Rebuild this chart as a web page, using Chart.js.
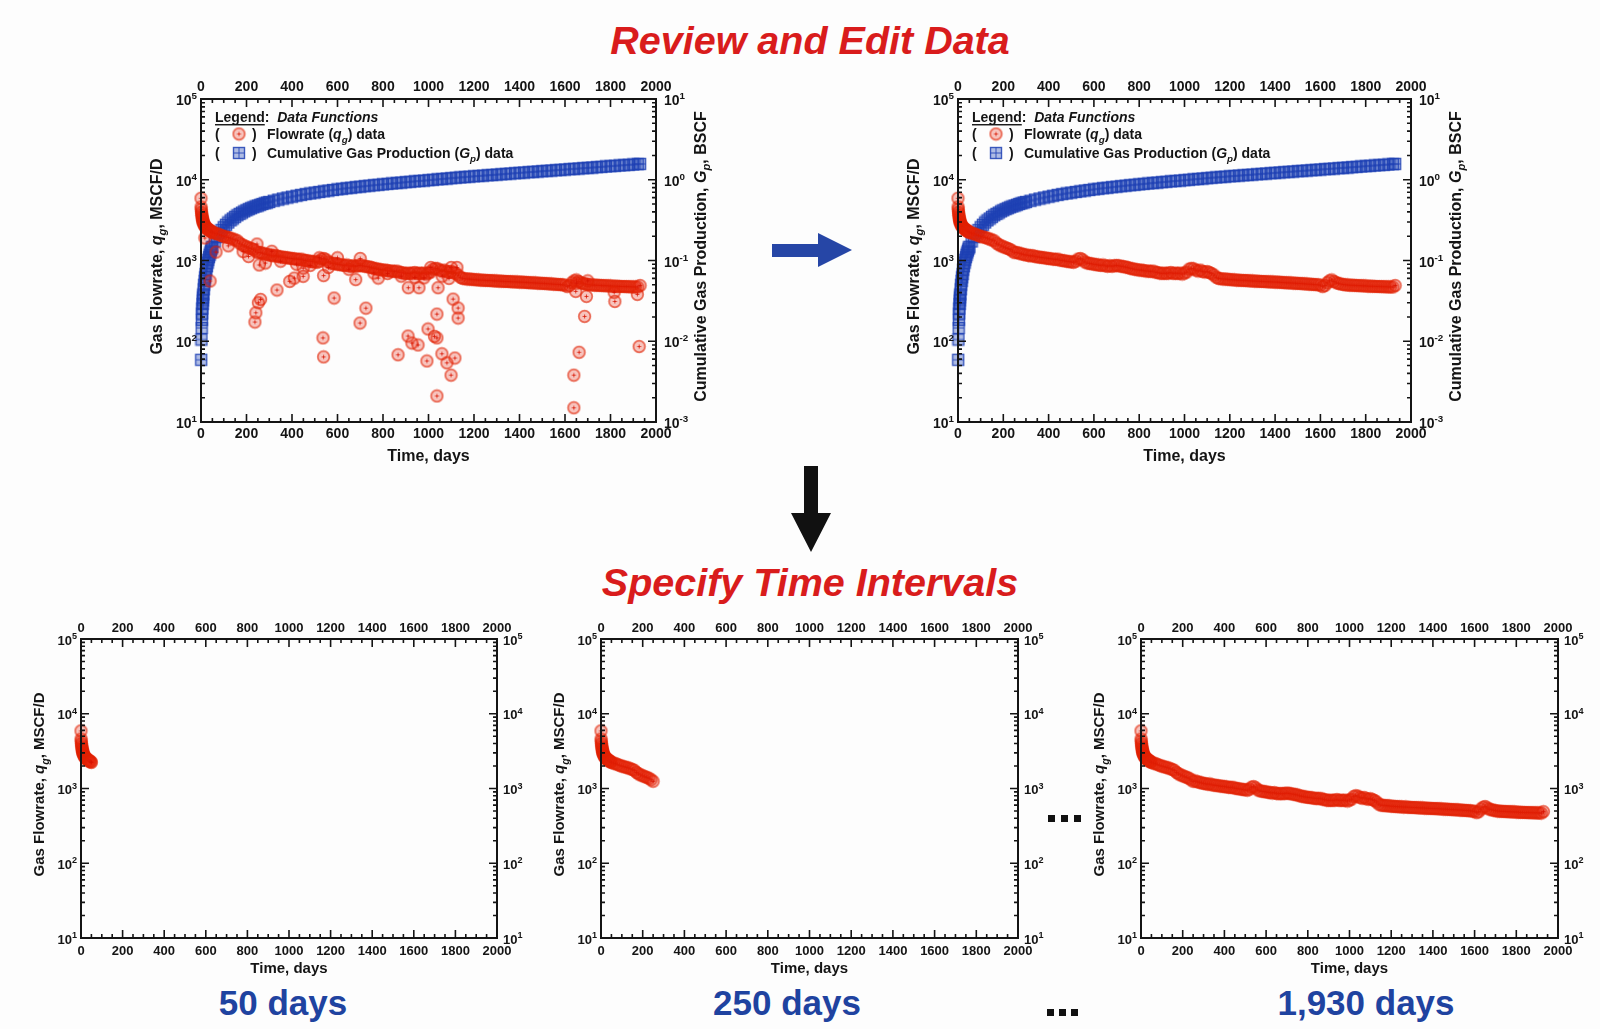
<!DOCTYPE html>
<html>
<head>
<meta charset="utf-8">
<title>Review and Edit Data</title>
<script src="https://cdn.jsdelivr.net/npm/chart.js@4.4.1/dist/chart.umd.min.js"></script>
<style>
  html, body { margin: 0; padding: 0; overflow: hidden; }
  body { width: 1600px; height: 1029px; position: relative; background: #fdfdfd; font-family: "Liberation Sans", Arial, sans-serif; }
  canvas { position: absolute; }
  #deco { position: absolute; left: 0; top: 0; }
</style>
</head>
<body>
<svg id="deco" width="1600" height="1029" xmlns="http://www.w3.org/2000/svg"></svg>
<script>
// tick labels
const X_TICKS = [0, 200, 400, 600, 800, 1000, 1200, 1400, 1600, 1800, 2000];
const RATE_EXP = [1, 2, 3, 4, 5];      // gas flowrate axis, MSCF/D
const CUM_EXP = [-3, -2, -1, 0, 1];    // cumulative gas axis, BSCF

// edited flowrate data [day, MSCF/D]
const flowEdited = [
  [0,5900],[0.5,4600],[1,4300],[2,4000],[3,3800],[4,3600],[5,3450],[6,3320],[7,3200],[8,3100],[9,3020],[10,2950],
  [12,2850],[14,2780],[16,2700],[18,2650],[20,2600],[23,2550],[26,2500],[29,2460],[32,2420],[35,2390],[38,2360],
  [41,2330],[44,2300],[47,2270],[50,2240],[60,2180],[70,2150],[80,2090],[90,2040],[100,1990],[110,1960],[120,1920],
  [130,1890],[140,1840],[150,1800],[160,1750],[170,1640],[180,1570],[190,1520],[200,1480],[210,1440],[220,1410],
  [230,1370],[240,1310],[250,1250],[260,1260],[270,1230],[280,1210],[290,1190],[300,1170],[310,1160],[320,1140],
  [330,1150],[340,1120],[350,1110],[360,1100],[370,1090],[380,1080],[390,1070],[400,1060],[410,1050],[420,1040],
  [430,1030],[440,1040],[450,1010],[460,1000],[470,990],[480,980],[490,970],[500,960],[510,950],[520,980],[530,1040],
  [540,1060],[550,1020],[560,960],[570,930],[580,920],[590,910],[600,900],[610,890],[620,880],[630,870],[640,880],
  [650,860],[660,850],[670,860],[680,850],[690,860],[700,870],[710,860],[720,850],[730,840],[740,830],[750,820],
  [760,800],[770,790],[780,780],[790,770],[800,760],[810,760],[820,750],[830,740],[840,740],[850,730],[860,740],
  [870,720],[880,710],[890,700],[900,690],[910,700],[920,690],[930,700],[940,710],[950,690],[960,700],[970,690],
  [980,700],[990,680],[1000,700],[1010,720],[1020,780],[1030,800],[1040,790],[1050,760],[1060,740],[1070,760],
  [1080,730],[1090,720],[1100,730],[1110,710],[1120,690],[1130,660],[1140,620],[1150,600],[1160,595],[1170,590],
  [1180,590],[1190,585],[1200,580],[1210,578],[1220,575],[1230,572],[1240,570],[1250,568],[1260,565],[1270,566],
  [1280,562],[1290,560],[1300,558],[1310,556],[1320,555],[1330,552],[1340,550],[1350,550],[1360,547],[1370,545],
  [1380,544],[1390,542],[1400,540],[1410,540],[1420,537],[1430,535],[1440,533],[1450,530],[1460,530],[1470,527],
  [1480,525],[1490,523],[1500,520],[1510,520],[1520,517],[1530,515],[1540,512],[1550,510],[1560,508],[1570,505],
  [1580,503],[1590,500],[1600,495],[1610,475],[1620,490],[1630,530],[1640,560],[1650,575],[1660,550],[1670,530],
  [1680,520],[1690,512],[1700,505],[1710,500],[1720,498],[1730,495],[1740,494],[1750,492],[1760,490],[1770,489],
  [1780,487],[1790,486],[1800,484],[1810,482],[1820,480],[1830,480],[1840,478],[1850,477],[1860,476],[1870,475],
  [1880,474],[1890,473],[1900,472],[1910,471],[1920,470],[1930,490]
];

// points removed during editing [day, MSCF/D]
const flowRemoved = [
  [17,1900],[40,557],[66,1270],[120,1520],[185,1290],[209,1120],[237,173],[241,225],[246,1600],[252,300],
  [262,330],[256,880],[283,930],[311,1300],[334,431],[350,980],[390,551],[410,605],[420,900],[449,636],
  [449,805],[480,870],[520,1080],[536,110],[539,64],[539,650],[560,820],[585,343],[600,1080],[650,780],
  [680,580],[699,168],[700,1060],[725,257],[760,700],[779,605],[820,690],[866,68],[880,640],[910,116],
  [911,460],[927,95],[940,620],[954,90],[958,460],[980,610],[993,57],[998,142],[1010,820],[1026,115],
  [1037,217],[1037,110],[1037,21],[1042,460],[1059,70],[1060,640],[1081,54],[1090,600],[1099,38],[1100,820],
  [1108,333],[1116,62],[1125,820],[1130,258],[1130,194],[1639,15],[1639,38],[1647,414],[1650,525],[1662,73],
  [1686,203],[1694,359],[1700,560],[1816,403],[1819,311],[1918,380],[1926,86]
];

// cumulative gas production [day, BSCF]
const cumGas = [
  [1,0.0059],[2,0.0105],[3,0.0146],[4,0.0184],[5,0.022],[6,0.0255],[7,0.029],[8,0.032],[9,0.035],[10,0.038],
  [12,0.044],[14,0.050],[16,0.056],[18,0.062],[20,0.068],[23,0.077],[26,0.085],[29,0.094],[32,0.102],[35,0.110],
  [38,0.118],[41,0.126],[44,0.133],[47,0.141],[50,0.148],[60,0.172],[70,0.195],[80,0.217],[90,0.238],[100,0.258],
  [110,0.277],[120,0.296],[130,0.314],[140,0.331],[150,0.347],[160,0.363],[170,0.378],[180,0.392],[190,0.406],
  [200,0.419],[210,0.432],[220,0.444],[230,0.456],[240,0.468],[250,0.479],[260,0.490],[270,0.501],[280,0.511],
  [290,0.521],[300,0.531],[320,0.550],[340,0.568],[360,0.585],[380,0.602],[400,0.618],[420,0.634],[440,0.649],
  [460,0.664],[480,0.678],[500,0.692],[520,0.706],[540,0.720],[560,0.734],[580,0.747],[600,0.760],[620,0.773],
  [640,0.785],[660,0.797],[680,0.809],[700,0.821],[720,0.833],[740,0.845],[760,0.856],[780,0.867],[800,0.878],
  [820,0.889],[840,0.900],[860,0.911],[880,0.922],[900,0.933],[920,0.944],[940,0.955],[960,0.966],[980,0.977],
  [1000,0.988],[1020,0.999],[1040,1.011],[1060,1.023],[1080,1.035],[1100,1.047],[1120,1.059],[1140,1.070],
  [1160,1.081],[1180,1.092],[1200,1.103],[1220,1.114],[1240,1.125],[1260,1.136],[1280,1.147],[1300,1.158],
  [1320,1.169],[1340,1.181],[1360,1.193],[1380,1.205],[1400,1.217],[1420,1.229],[1440,1.241],[1460,1.253],
  [1480,1.265],[1500,1.277],[1520,1.289],[1540,1.301],[1560,1.313],[1580,1.326],[1600,1.339],[1620,1.352],
  [1640,1.365],[1660,1.378],[1680,1.391],[1700,1.404],[1720,1.418],[1740,1.432],[1760,1.446],[1780,1.460],
  [1800,1.474],[1820,1.488],[1840,1.502],[1860,1.516],[1880,1.530],[1900,1.545],[1920,1.560],[1930,1.570]
];

// time intervals shown in the lower row
const intervalDays = [50, 250, 1930];
const intervalLabels = ['50 days', '250 days', '1,930 days'];

const FONT = '"Liberation Sans", Arial, sans-serif';

// marker images
function circlePlus() {
  const c = document.createElement('canvas');
  c.width = c.height = 15;
  const g = c.getContext('2d');
  g.beginPath(); g.arc(7.5, 7.5, 5.8, 0, Math.PI * 2);
  g.fillStyle = 'rgba(232,35,10,0.26)'; g.fill();
  g.lineWidth = 1.7; g.strokeStyle = 'rgba(225,35,5,0.66)'; g.stroke();
  g.beginPath(); g.moveTo(5.5, 7.5); g.lineTo(9.5, 7.5); g.moveTo(7.5, 5.5); g.lineTo(7.5, 9.5);
  g.lineWidth = 1; g.strokeStyle = 'rgba(215,20,0,0.8)'; g.stroke();
  return c;
}
function squarePlus() {
  const c = document.createElement('canvas');
  c.width = c.height = 14;
  const g = c.getContext('2d');
  g.fillStyle = 'rgba(30,65,180,0.35)';
  g.fillRect(1.5, 1.5, 11, 11);
  g.strokeStyle = 'rgba(30,65,180,0.85)'; g.lineWidth = 1.4;
  g.strokeRect(1.5, 1.5, 11, 11);
  g.beginPath(); g.moveTo(1.5, 7); g.lineTo(12.5, 7); g.moveTo(7, 1.5); g.lineTo(7, 12.5);
  g.lineWidth = 1; g.stroke();
  return c;
}
const FLOW_MARK = circlePlus();
const CUM_MARK = squarePlus();

// draws a line of mixed-style text, centred (or left/right aligned) at x,y
function drawRich(ctx, segs, x, y, size, rot, align) {
  ctx.save();
  ctx.translate(x, y);
  ctx.rotate(rot || 0);
  const fontOf = s => (s.i ? 'italic ' : '') + 'bold ' + (s.sub || s.sup ? size * 0.7 : size) + 'px ' + FONT;
  let total = 0;
  const widths = segs.map(s => { ctx.font = fontOf(s); const w = ctx.measureText(s.t).width; total += w; return w; });
  let cx = align === 'left' ? 0 : align === 'right' ? -total : -total / 2;
  ctx.fillStyle = '#141414';
  ctx.textBaseline = 'alphabetic';
  segs.forEach((s, k) => {
    ctx.font = fontOf(s);
    let dy = size * 0.36;
    if (s.sub) dy += size * 0.28;
    if (s.sup) dy -= size * 0.42;
    ctx.fillText(s.t, cx, dy);
    if (s.u) ctx.fillRect(cx, dy + 2, widths[k], 1.4);
    cx += widths[k];
  });
  ctx.restore();
  return total;
}

const framePlugin = {
  id: 'frame',
  afterDatasetsDraw(chart, args, o) {
    const ctx = chart.ctx;
    const { left: l, right: r, top: t, bottom: b } = chart.chartArea;
    const xs = chart.scales.x, ys = chart.scales.y;
    ctx.save();
    ctx.strokeStyle = '#141414';
    ctx.lineWidth = 2;
    ctx.strokeRect(l, t, r - l, b - t);

    // inward ticks on all four sides
    ctx.lineWidth = 1.6;
    ctx.beginPath();
    for (let v = 0; v <= 2000; v += 50) {
      const px = xs.getPixelForValue(v);
      const len = v % 200 === 0 ? 8 : 4;
      ctx.moveTo(px, b); ctx.lineTo(px, b - len);
      ctx.moveTo(px, t); ctx.lineTo(px, t + len);
    }
    RATE_EXP.forEach(e => {
      for (let k = 1; k <= 9; k++) {
        if (e === 5 && k > 1) break;
        const py = ys.getPixelForValue(k * Math.pow(10, e));
        const len = k === 1 ? 8 : 4;
        ctx.moveTo(l, py); ctx.lineTo(l + len, py);
        ctx.moveTo(r, py); ctx.lineTo(r - len, py);
      }
    });
    ctx.stroke();

    // x tick labels, top and bottom
    ctx.fillStyle = '#141414';
    ctx.font = 'bold ' + o.fs + 'px ' + FONT;
    ctx.textAlign = 'center';
    ctx.textBaseline = 'middle';
    X_TICKS.forEach(v => {
      const px = xs.getPixelForValue(v);
      ctx.fillText(String(v), px, t - o.topGap);
      ctx.fillText(String(v), px, b + o.botGap);
    });
    ctx.textAlign = 'left';

    // y tick labels
    RATE_EXP.forEach(e => {
      const py = ys.getPixelForValue(Math.pow(10, e));
      drawRich(ctx, [{ t: '10' }, { t: String(e), sup: true }], l - 4, py + 1, o.fs, 0, 'right');
    });
    if (o.right === 'cum') {
      const y2 = chart.scales.y2;
      CUM_EXP.forEach(e => {
        const py = y2.getPixelForValue(Math.pow(10, e));
        drawRich(ctx, [{ t: '10' }, { t: String(e), sup: true }], r + 8, py + 1, o.fs, 0, 'left');
      });
    } else {
      RATE_EXP.forEach(e => {
        const py = ys.getPixelForValue(Math.pow(10, e));
        drawRich(ctx, [{ t: '10' }, { t: String(e), sup: true }], r + 6, py + 1, o.fs, 0, 'left');
      });
    }

    // axis titles
    const midY = (t + b) / 2 - 4;
    drawRich(ctx, [{ t: 'Time, days' }], (l + r) / 2, b + o.titleGap, o.tfs, 0);
    drawRich(ctx, [{ t: 'Gas Flowrate, ' }, { t: 'q', i: true }, { t: 'g', i: true, sub: true }, { t: ', MSCF/D' }],
      l - o.leftTitle, midY, o.tfs, -Math.PI / 2);
    if (o.right === 'cum') {
      drawRich(ctx, [{ t: 'Cumulative Gas Production, ' }, { t: 'G', i: true }, { t: 'p', i: true, sub: true }, { t: ', BSCF' }],
        r + o.rightTitle, midY, o.tfs, -Math.PI / 2);
    }

    // legend text
    if (o.legend) {
      const lx = l + 14, fs = 14;
      drawRich(ctx, [{ t: 'Legend', u: true }, { t: ':  ' }, { t: 'Data Functions', i: true }], lx, t + 18, fs, 0, 'left');
      const rows = [
        { y: t + 35, img: FLOW_MARK, segs: [{ t: 'Flowrate (' }, { t: 'q', i: true }, { t: 'g', i: true, sub: true }, { t: ') data' }] },
        { y: t + 54, img: CUM_MARK, segs: [{ t: 'Cumulative Gas Production (' }, { t: 'G', i: true }, { t: 'p', i: true, sub: true }, { t: ') data' }] }
      ];
      rows.forEach(row => {
        drawRich(ctx, [{ t: '(' }], lx, row.y, fs, 0, 'left');
        ctx.drawImage(row.img, lx + 24 - row.img.width / 2, row.y - row.img.height / 2);
        drawRich(ctx, [{ t: ')' }], lx + 37, row.y, fs, 0, 'left');
        drawRich(ctx, row.segs, lx + 52, row.y, fs, 0, 'left');
      });
    }
    ctx.restore();
  }
};

function toXY(list) {
  return list.map(p => ({ x: p[0], y: p[1] }));
}

function makeChart(box, pad, datasets, frameOpts, withCum) {
  const c = document.createElement('canvas');
  c.width = box.r - box.l + pad[0] + pad[1];
  c.height = box.b - box.t + pad[2] + pad[3];
  c.style.left = (box.l - pad[0]) + 'px';
  c.style.top = (box.t - pad[2]) + 'px';
  document.body.appendChild(c);
  const scales = {
    x: { type: 'linear', min: 0, max: 2000, display: false },
    y: { type: 'logarithmic', min: 10, max: 100000, display: false }
  };
  if (withCum) scales.y2 = { type: 'logarithmic', position: 'right', min: 0.001, max: 10, display: false };
  return new Chart(c.getContext('2d'), {
    type: 'scatter',
    data: { datasets: datasets },
    options: {
      responsive: false,
      animation: false,
      devicePixelRatio: 1,
      events: [],
      layout: { padding: { left: pad[0], right: pad[1], top: pad[2], bottom: pad[3] } },
      scales: scales,
      plugins: { legend: { display: false }, tooltip: { enabled: false }, frame: frameOpts }
    },
    plugins: [framePlugin]
  });
}

function flowSet(list) {
  return { data: toXY(list), pointStyle: FLOW_MARK, clip: false, order: 1, yAxisID: 'y' };
}
function cumSet() {
  return { data: toXY(cumGas), pointStyle: CUM_MARK, clip: false, order: 2, yAxisID: 'y2' };
}

const topOpts = { fs: 14, tfs: 16, topGap: 12, botGap: 12, titleGap: 33, leftTitle: 45, rightTitle: 44, right: 'cum', legend: true };
const botOpts = { fs: 13, tfs: 15, topGap: 11, botGap: 13, titleGap: 30, leftTitle: 42, right: 'rate', legend: false };

// upper row: raw data, then edited data
makeChart({ l: 201, t: 99, r: 656, b: 422 }, [80, 100, 40, 50],
  [flowSet(flowEdited.concat(flowRemoved)), cumSet()], topOpts, true);
makeChart({ l: 958, t: 99, r: 1411, b: 422 }, [80, 100, 40, 50],
  [flowSet(flowEdited), cumSet()], topOpts, true);

// lower row: edited data up to each time interval
const lowerBoxes = [
  { l: 81, t: 639, r: 497, b: 938 },
  { l: 601, t: 639, r: 1018, b: 938 },
  { l: 1141, t: 639, r: 1558, b: 938 }
];
intervalDays.forEach((d, k) => {
  makeChart(lowerBoxes[k], [80, 42, 35, 45], [flowSet(flowEdited.filter(p => p[0] <= d))], botOpts, false);
});

// headings, arrows and interval captions
const svg = document.getElementById('deco');
const NS = 'http://www.w3.org/2000/svg';
function svgEl(tag, attrs, text) {
  const e = document.createElementNS(NS, tag);
  for (const k in attrs) e.setAttribute(k, attrs[k]);
  if (text) e.textContent = text;
  svg.appendChild(e);
  return e;
}
const headStyle = { 'text-anchor': 'middle', 'font-family': FONT, 'font-weight': 'bold', 'font-style': 'italic', 'font-size': 39.5, fill: '#d91c1c' };
svgEl('text', Object.assign({ x: 810, y: 54 }, headStyle), 'Review and Edit Data');
svgEl('text', Object.assign({ x: 810, y: 596 }, headStyle), 'Specify Time Intervals');
svgEl('polygon', { points: '772,244 818,244 818,233 852,250 818,267 818,257 772,257', fill: '#2646a6' });
svgEl('polygon', { points: '804,466 818,466 818,513 831,513 811,552 791,513 804,513', fill: '#111' });
[1048, 1061, 1074].forEach(x => svgEl('rect', { x: x, y: 815, width: 7, height: 7, fill: '#111' }));
[1047, 1059, 1071].forEach(x => svgEl('rect', { x: x, y: 1009, width: 7, height: 7, fill: '#111' }));
const captionX = [283, 787, 1366];
intervalLabels.forEach((s, k) => {
  svgEl('text', { x: captionX[k], y: 1015, 'text-anchor': 'middle', 'font-family': FONT, 'font-weight': 'bold',
    'font-size': 35, fill: '#1f43a0' }, s);
});
</script>
</body>
</html>
